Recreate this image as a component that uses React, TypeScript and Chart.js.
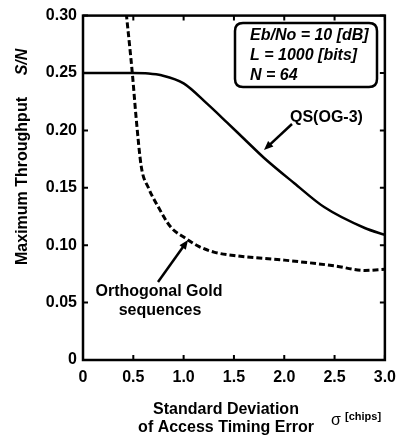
import React, { useEffect, useRef } from "react";
import { Chart, registerables } from "chart.js";
Chart.register(...registerables);

const qsSigma = [0, 0.5, 0.65, 0.78, 1.0, 1.23, 1.43, 1.62, 1.8, 2.1, 2.4, 2.8, 3.0];
const qsThroughput = [0.25, 0.25, 0.2496, 0.248, 0.241, 0.2235, 0.207, 0.191, 0.176, 0.154, 0.133, 0.115, 0.109];
const ogSigma = [0.43, 0.49, 0.53, 0.58, 0.65, 0.75, 0.87, 1.02, 1.15, 1.3, 1.5, 2.0, 2.5, 2.8, 3.0];
const ogThroughput = [0.302, 0.25, 0.209, 0.168, 0.15, 0.133, 0.116, 0.106, 0.099, 0.094, 0.091, 0.087, 0.082, 0.078, 0.079];
const xTickValues = [0, 0.5, 1.0, 1.5, 2.0, 2.5, 3.0];
const yTickValues = [0, 0.05, 0.1, 0.15, 0.2, 0.25, 0.3];
const boxLines = ["Eb/No = 10 [dB]", "L = 1000 [bits]", "N = 64"];
const qsLabel = "QS(OG-3)";
const ogLabel = ["Orthogonal Gold", "sequences"];
const xTitle = ["Standard Deviation", "of Access Timing Error"];
const yTitle = "Maximum Throughput";
const yTitleUnit = "S/N";

const FONT = '"Liberation Sans", Arial, Helvetica, sans-serif';

function arrow(ctx: CanvasRenderingContext2D, x1: number, y1: number, x2: number, y2: number) {
  const ang = Math.atan2(y2 - y1, x2 - x1);
  const hl = 10;
  ctx.beginPath();
  ctx.moveTo(x1, y1);
  ctx.lineTo(x2 - Math.cos(ang) * hl * 0.8, y2 - Math.sin(ang) * hl * 0.8);
  ctx.lineWidth = 2.5;
  ctx.stroke();
  ctx.beginPath();
  ctx.moveTo(x2, y2);
  ctx.lineTo(x2 - hl * Math.cos(ang - 0.4), y2 - hl * Math.sin(ang - 0.4));
  ctx.lineTo(x2 - hl * Math.cos(ang + 0.4), y2 - hl * Math.sin(ang + 0.4));
  ctx.closePath();
  ctx.fill();
}

const decorPlugin = {
  id: "decor",
  afterDraw(chart: any) {
    const ctx: CanvasRenderingContext2D = chart.ctx;
    const { left, right, top, bottom } = chart.chartArea;
    const xs = chart.scales.x;
    const ys = chart.scales.y;
    ctx.save();
    ctx.strokeStyle = "#000";
    ctx.fillStyle = "#000";
    // frame
    ctx.lineWidth = 2.5;
    ctx.strokeRect(left, top, right - left, bottom - top);
    // inward ticks
    ctx.lineWidth = 2;
    const tl = 5;
    xTickValues.forEach((v) => {
      const px = xs.getPixelForValue(v);
      ctx.beginPath();
      ctx.moveTo(px, bottom);
      ctx.lineTo(px, bottom - tl);
      ctx.moveTo(px, top);
      ctx.lineTo(px, top + tl);
      ctx.stroke();
    });
    yTickValues.forEach((v) => {
      const py = ys.getPixelForValue(v);
      ctx.beginPath();
      ctx.moveTo(left, py);
      ctx.lineTo(left + tl, py);
      ctx.moveTo(right, py);
      ctx.lineTo(right - tl, py);
      ctx.stroke();
    });
    // parameter box
    const bx = 235, by = 23, bw = 142, bh = 64, r = 8;
    ctx.lineWidth = 2.5;
    ctx.beginPath();
    ctx.moveTo(bx + r, by);
    ctx.lineTo(bx + bw - r, by);
    ctx.quadraticCurveTo(bx + bw, by, bx + bw, by + r);
    ctx.lineTo(bx + bw, by + bh - r);
    ctx.quadraticCurveTo(bx + bw, by + bh, bx + bw - r, by + bh);
    ctx.lineTo(bx + r, by + bh);
    ctx.quadraticCurveTo(bx, by + bh, bx, by + bh - r);
    ctx.lineTo(bx, by + r);
    ctx.quadraticCurveTo(bx, by, bx + r, by);
    ctx.closePath();
    ctx.fillStyle = "#fff";
    ctx.fill();
    ctx.stroke();
    ctx.fillStyle = "#000";
    ctx.font = `italic bold 16px ${FONT}`;
    ctx.textAlign = "left";
    ctx.textBaseline = "middle";
    boxLines.forEach((t, i) => ctx.fillText(t, 250, 36 + i * 20));
    // QS label and arrow
    ctx.font = `bold 16px ${FONT}`;
    ctx.fillText(qsLabel, 290, 118);
    arrow(ctx, 292, 124, 264, 150);
    // OG label and arrow
    ctx.textAlign = "center";
    ctx.fillText(ogLabel[0], 159, 292);
    ctx.fillText(ogLabel[1], 160, 311);
    arrow(ctx, 158, 282, 188, 240);
    // x title
    ctx.fillText(xTitle[0], 226, 410);
    ctx.fillText(xTitle[1], 226, 428);
    ctx.textAlign = "left";
    ctx.font = `16px ${FONT}`;
    ctx.fillText("\u03c3", 331, 421);
    ctx.font = `bold 11px ${FONT}`;
    ctx.fillText("[chips]", 345, 417);
    // y title
    ctx.translate(23, 0);
    ctx.rotate(-Math.PI / 2);
    ctx.textAlign = "center";
    ctx.font = `bold 16px ${FONT}`;
    ctx.fillText(yTitle, -181, 0);
    ctx.font = `italic bold 16px ${FONT}`;
    ctx.fillText(yTitleUnit, -62, 0);
    ctx.restore();
  },
};

export default function App() {
  const ref = useRef<HTMLCanvasElement>(null);
  useEffect(() => {
    if (!ref.current) return;
    const chart = new Chart(ref.current, {
      type: "line",
      data: {
        datasets: [
          {
            label: qsLabel,
            data: qsSigma.map((x, i) => ({ x, y: qsThroughput[i] })),
            borderColor: "#000",
            borderWidth: 2.5,
            pointRadius: 0,
            cubicInterpolationMode: "monotone",
            fill: false,
          },
          {
            label: ogLabel.join(" "),
            data: ogSigma.map((x, i) => ({ x, y: ogThroughput[i] })),
            borderColor: "#000",
            borderWidth: 3,
            borderDash: [6, 3],
            pointRadius: 0,
            cubicInterpolationMode: "monotone",
            fill: false,
          },
        ],
      },
      options: {
        animation: false,
        responsive: false,
        maintainAspectRatio: false,
        layout: { padding: { top: 15, right: 12, left: 0, bottom: 0 } },
        plugins: { legend: { display: false }, tooltip: { enabled: false } },
        scales: {
          x: {
            type: "linear",
            min: 0,
            max: 3,
            afterFit: (s: any) => { s.height = 77; },
            afterBuildTicks: (s: any) => { s.ticks = xTickValues.map((v) => ({ value: v })); },
            grid: { display: false, drawTicks: false },
            border: { display: false },
            ticks: {
              padding: 8,
              color: "#000",
              font: { family: FONT, size: 16, weight: "bold" },
              callback: (v: any) => (Number(v) === 0 ? "0" : Number(v).toFixed(1)),
            },
          },
          y: {
            type: "linear",
            min: 0,
            max: 0.3,
            afterFit: (s: any) => { s.width = 83; },
            afterBuildTicks: (s: any) => { s.ticks = yTickValues.map((v) => ({ value: v })); },
            grid: { display: false, drawTicks: false },
            border: { display: false },
            ticks: {
              padding: 6,
              color: "#000",
              font: { family: FONT, size: 16, weight: "bold" },
              callback: (v: any) => (Number(v) === 0 ? "0" : Number(v).toFixed(2)),
            },
          },
        },
      },
      plugins: [decorPlugin],
    } as any);
    return () => chart.destroy();
  }, []);
  return (
    <div style={{ position: "absolute", left: 0, top: 0, width: 404, height: 437, background: "#fff" }}>
      <canvas ref={ref} width={404} height={437} style={{ width: 404, height: 437 }} />
    </div>
  );
}
